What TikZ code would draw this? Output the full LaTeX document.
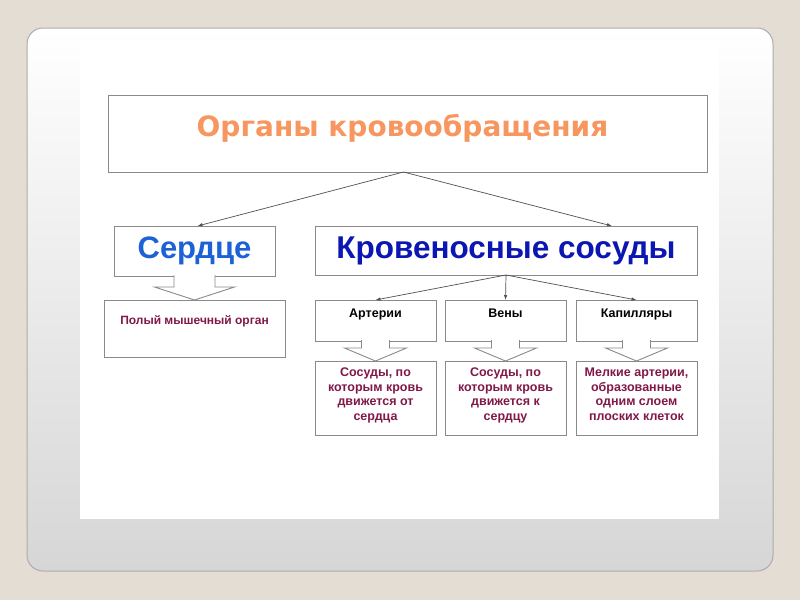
\documentclass[tikz,border=0pt]{standalone}
\usepackage{fontspec}
\setmainfont{Liberation Sans}
\newfontfamily\titlefont{DejaVu Sans}
\usetikzlibrary{arrows.meta}
\usetikzlibrary{calc}

\definecolor{slidebg}{RGB}{227,221,211}
\definecolor{panelgray}{RGB}{214,214,214}
\definecolor{panelline}{RGB}{172,172,172}
\definecolor{boxgray}{RGB}{138,138,138}
\definecolor{linkgray}{RGB}{80,80,80}
\definecolor{titleorange}{RGB}{247,150,95}
\definecolor{serdceblue}{RGB}{28,98,214}
\definecolor{sosudyblue}{RGB}{12,22,178}
\definecolor{infored}{RGB}{128,24,72}

\tikzset{
	box/.style={draw=boxgray, line width=0.9pt, fill=white, inner sep=0pt,
		outer sep=0pt, align=center},
	link/.style={draw=linkgray, line width=0.7pt, -{Latex[length=5pt,width=3.5pt]}},
	blockarr/.style={draw=boxgray, line width=0.9pt, fill=white, line join=miter},
	namebox/.style={box, minimum width=121pt, minimum height=41pt, text depth=14pt,
		font=\bfseries\fontsize{12.5}{14}\selectfont},
	infobox/.style={box, minimum width=121pt, minimum height=74pt, text depth=8pt,
		text=infored, font=\bfseries\fontsize{12.5}{14.5}\selectfont}
}

\begin{document}
\begin{tikzpicture}[x=1pt,y=-1pt]

		\fill[slidebg] (0,0) rectangle (800,600);
		\useasboundingbox (0,0) rectangle (800,600);

		\shadedraw[top color=white, bottom color=panelgray, draw=panelline,
			line width=1pt, rounded corners=16pt] (27,28) rectangle (773,571);
		\fill[white] (80,40) rectangle (719,519);

		% upper level
		\node[box, minimum width=599pt, minimum height=77pt, text depth=17pt,
			text=titleorange, font={\titlefont\bfseries\fontsize{28}{30}\selectfont}]
			(organy) at (407.5,133.5) {Органы кровообращения\hspace{10pt}};

		\node[box, minimum width=161pt, minimum height=50pt, text=serdceblue,
			font={\bfseries\fontsize{31}{33}\selectfont}]
			(serdce) at (194.5,251) {Сердце};

		\node[box, minimum width=382pt, minimum height=49pt,
			text=sosudyblue, font={\bfseries\fontsize{31.5}{33}\selectfont}]
			(sosudy) at (506,250.5) {Кровеносные сосуды};

		\node[box, minimum width=181pt, minimum height=57pt, text depth=17pt,
			text=infored, font={\bfseries\fontsize{12}{13}\selectfont}]
			(poly) at (194.5,328.5) {Полый мышечный орган};

		% vessels
		\node[namebox] (arterii) at (375.5,320.5) {Артерии};
		\node[namebox] (veny) at (505.5,320.5) {Вены};
		\node[namebox] (kapill) at (636.5,320.5) {Капилляры};

		\node[infobox] (arteriiinfo) at (375.5,398)%
		{Сосуды, по\\ которым кровь\\ движется от\\ сердца};
		\node[infobox] (venyinfo) at (505.5,398)%
		{Сосуды, по\\ которым кровь\\ движется к\\ сердцу};
		\node[infobox] (kapillinfo) at (636.5,398)%
		{Мелкие артерии,\\ образованные\\ одним слоем\\ плоских клеток};

		% connectors
		\coordinate (fan) at ([xshift=-4pt]organy.south);
		\draw[link] (fan) -- ([xshift=3pt]serdce.north);
		\draw[link] (fan) -- ([xshift=106pt]sosudy.north);
		\foreach \n in {arterii,veny,kapill}
			\draw[link] (sosudy.south) -- (\n.north);

		\draw[blockarr] ($(serdce.south)+(-20.5,-1)$) -- ++(0,12) -- ++(-19.5,0)
			-- ($(serdce.south)+(0,24)$) -- ($(serdce.south)+(40,11)$)
			-- ++(-19.5,0) -- ++(0,-12);
		\foreach \n in {arterii,veny,kapill}
			\draw[blockarr] ($(\n.south)+(-14,-1)$) -- ++(0,8) -- ++(-17,0)
				-- ($(\n.south)+(0,20)$) -- ($(\n.south)+(31,7)$)
				-- ++(-17,0) -- ++(0,-8);
	\end{tikzpicture}
\end{document}
